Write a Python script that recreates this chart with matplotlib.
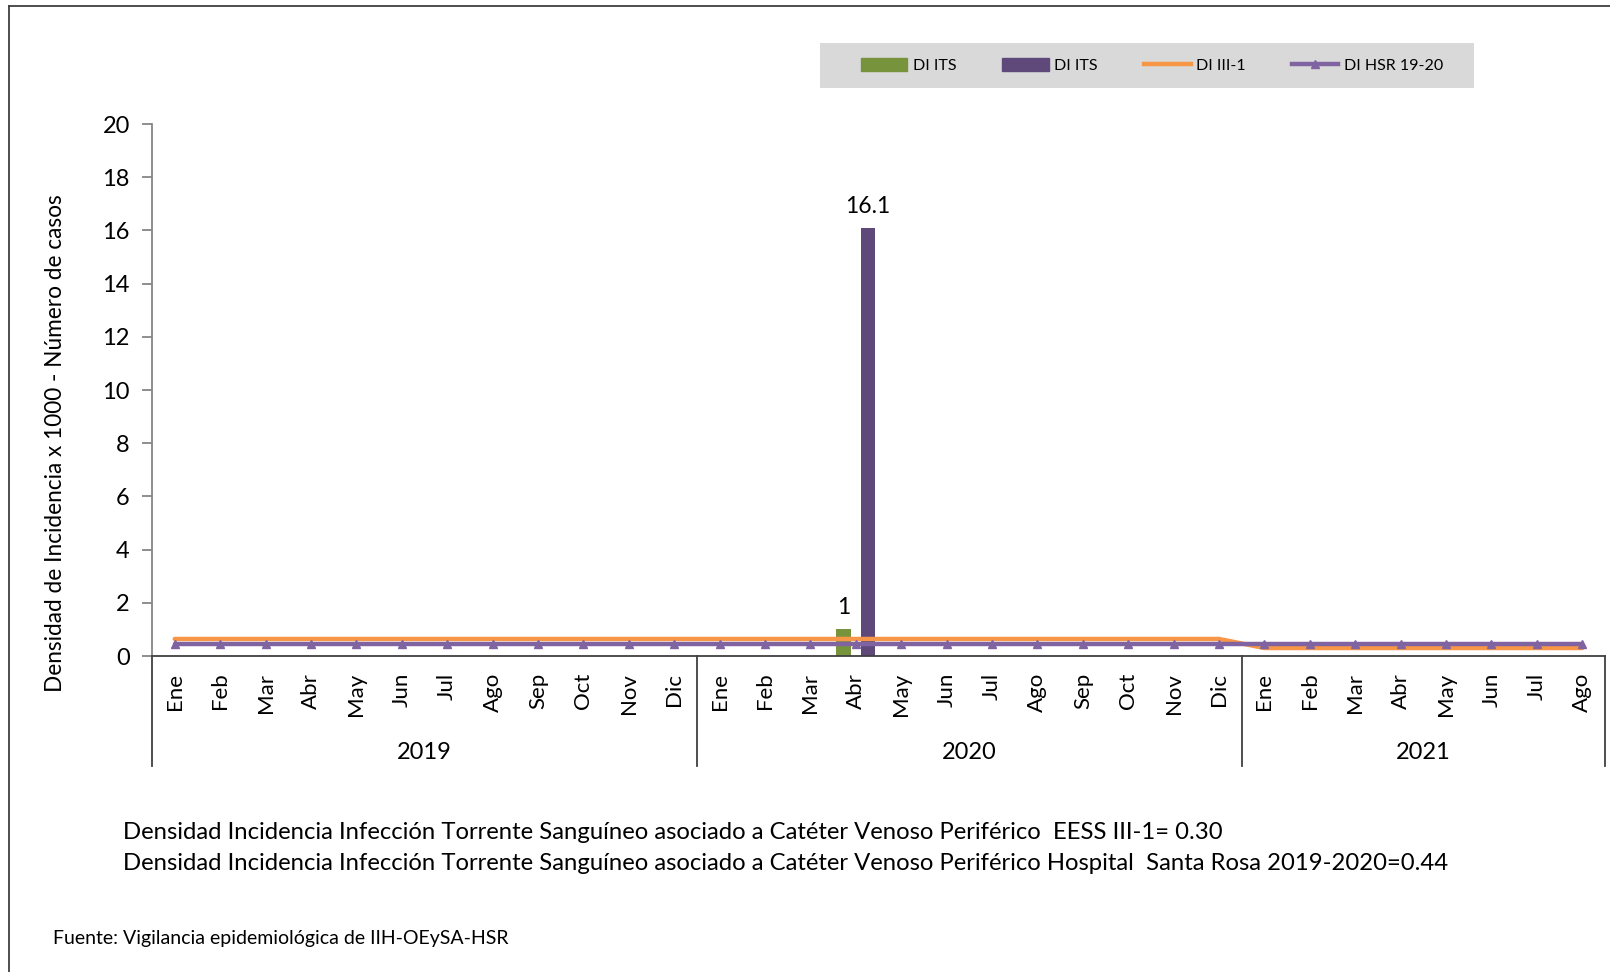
import matplotlib
matplotlib.use("Agg")
import matplotlib.pyplot as plt
from matplotlib.lines import Line2D
from matplotlib.patches import Patch, Rectangle
import matplotlib.transforms as mtransforms
import numpy as np

plt.rcParams['font.family'] = ['Lato', 'DejaVu Sans']

# ---- data ----
months = ['Ene', 'Feb', 'Mar', 'Abr', 'May', 'Jun', 'Jul', 'Ago', 'Sep', 'Oct', 'Nov', 'Dic',
          'Ene', 'Feb', 'Mar', 'Abr', 'May', 'Jun', 'Jul', 'Ago', 'Sep', 'Oct', 'Nov', 'Dic',
          'Ene', 'Feb', 'Mar', 'Abr', 'May', 'Jun', 'Jul', 'Ago']
years = ['2019', '2020', '2021']
year_counts = [12, 12, 8]
casos_its = [0, 0, 0, 0, 0, 0, 0, 0, 0, 0, 0, 0,
             0, 0, 0, 1, 0, 0, 0, 0, 0, 0, 0, 0,
             0, 0, 0, 0, 0, 0, 0, 0]
di_its = [0, 0, 0, 0, 0, 0, 0, 0, 0, 0, 0, 0,
          0, 0, 0, 16.1, 0, 0, 0, 0, 0, 0, 0, 0,
          0, 0, 0, 0, 0, 0, 0, 0]
di_iii1 = [0.64, 0.64, 0.64, 0.64, 0.64, 0.64, 0.64, 0.64, 0.64, 0.64, 0.64, 0.64,
           0.64, 0.64, 0.64, 0.64, 0.64, 0.64, 0.64, 0.64, 0.64, 0.64, 0.64, 0.64,
           0.30, 0.30, 0.30, 0.30, 0.30, 0.30, 0.30, 0.30]
di_hsr = [0.44, 0.44, 0.44, 0.44, 0.44, 0.44, 0.44, 0.44, 0.44, 0.44, 0.44, 0.44,
          0.44, 0.44, 0.44, 0.44, 0.44, 0.44, 0.44, 0.44, 0.44, 0.44, 0.44, 0.44,
          0.44, 0.44, 0.44, 0.44, 0.44, 0.44, 0.44, 0.44]
y_ticks = [0, 2, 4, 6, 8, 10, 12, 14, 16, 18, 20]

c_green = '#77933C'
c_pbar = '#5F497A'
c_orange = '#F79646'
c_pline = '#8064A2'
axis_col = '#868686'

W, H = 1610, 972
fig = plt.figure(figsize=(W / 100, H / 100), dpi=100)
ax = fig.add_axes([152 / W, 1 - 656 / H, (1605 - 152) / W, (656 - 124) / H])

x = np.arange(len(months))
bw = 0.32
off = 0.27
b1 = ax.bar(x - off, casos_its, width=bw, color=c_green, zorder=2)
b2 = ax.bar(x + off, di_its, width=bw, color=c_pbar, zorder=2)
for rect, v in zip(b1, casos_its):
    if v:
        ax.annotate(f'{v:g}', (rect.get_x() + rect.get_width() / 2, v), xytext=(0, 8),
                    textcoords='offset points', ha='center', va='bottom', fontsize=16.5)
for rect, v in zip(b2, di_its):
    if v:
        ax.annotate(f'{v:g}', (rect.get_x() + rect.get_width() / 2, v), xytext=(0, 8),
                    textcoords='offset points', ha='center', va='bottom', fontsize=16.5)

ax.plot(x, di_iii1, color=c_orange, lw=3.2, zorder=3, solid_capstyle='round')
ax.plot(x, di_hsr, color=c_pline, lw=3.2, marker='^', markersize=6, zorder=4,
        solid_capstyle='round')

ax.set_xlim(-0.5, len(months) - 0.5)
ax.set_ylim(0, 20)
ax.set_yticks(y_ticks)
ax.set_yticklabels([str(t) for t in y_ticks], fontsize=17)
ax.tick_params(axis='y', length=7, width=1.3, color=axis_col, pad=9)
ax.set_xticks(x)
ax.set_xticklabels(months, rotation=90, fontsize=16, va='top')
ax.tick_params(axis='x', length=0, pad=12)
for s in ['top', 'right']:
    ax.spines[s].set_visible(False)
ax.spines['left'].set_color(axis_col)
ax.spines['left'].set_linewidth(1.3)
ax.spines['bottom'].set_color('#404040')
ax.spines['bottom'].set_linewidth(1.3)

ax.set_ylabel('Densidad de Incidencia x 1000 - Número de casos', fontsize=16.3)
ax.yaxis.set_label_coords((66 - 152) / (1605 - 152), (656 - 443) / (656 - 124))

# year group separators and labels
trans = mtransforms.blended_transform_factory(ax.transData, ax.transAxes)
ybot = -(766 - 656) / (656 - 124)
bounds = np.concatenate([[0], np.cumsum(year_counts)]) - 0.5
for b in bounds:
    ax.plot([b, b], [0, ybot], transform=trans, color='#404040', lw=1.3, clip_on=False)
for i, yr in enumerate(years):
    cx = (bounds[i] + bounds[i + 1]) / 2
    ax.text(cx, -(752 - 656) / (656 - 124), yr, transform=trans, ha='center', va='center',
            fontsize=17)

# legend
fig.add_artist(Rectangle((820 / W, 1 - 88 / H), (1474 - 820) / W, (88 - 43) / H,
                         transform=fig.transFigure, facecolor='#D9D9D9', edgecolor='none',
                         zorder=0))
handles = [Patch(color=c_green), Patch(color=c_pbar),
           Line2D([], [], color=c_orange, lw=3.2),
           Line2D([], [], color=c_pline, lw=3.2, marker='^', markersize=6)]
labels = ['DI ITS', 'DI ITS', 'DI III-1', 'DI HSR 19-20']
leg = fig.legend(handles, labels, ncol=4, loc='center',
                 bbox_to_anchor=(1152 / W, 1 - 65.5 / H),
                 frameon=False, fontsize=11.5, handlelength=2.9, handleheight=0.9,
                 handletextpad=0.35, columnspacing=2.9, borderaxespad=0)

# notes
fig.text(123 / W, 1 - 832 / H,
         'Densidad Incidencia Infección Torrente Sanguíneo asociado a Catéter Venoso Periférico  EESS III-1= 0.30',
         fontsize=17.2, va='center', ha='left')
fig.text(123 / W, 1 - 863 / H,
         'Densidad Incidencia Infección Torrente Sanguíneo asociado a Catéter Venoso Periférico Hospital  Santa Rosa 2019-2020=0.44',
         fontsize=17.2, va='center', ha='left')
fig.text(53 / W, 1 - 938 / H, 'Fuente: Vigilancia epidemiológica de IIH-OEySA-HSR',
         fontsize=14, va='center', ha='left')

# outer border (left and top edges visible)
fig.add_artist(Line2D([9 / W, 9 / W], [0, 1 - 6 / H], transform=fig.transFigure,
                      color='#404040', lw=1.3))
fig.add_artist(Line2D([9 / W, 1], [1 - 6 / H, 1 - 6 / H], transform=fig.transFigure,
                      color='#404040', lw=1.3))

fig.savefig('out.png', dpi=100)
